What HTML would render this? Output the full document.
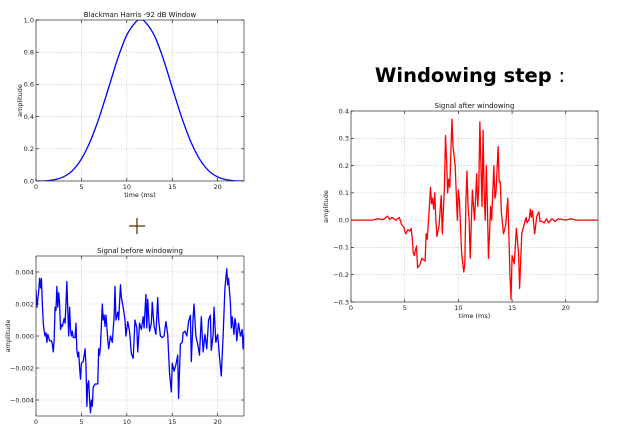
<!DOCTYPE html>
<html><head><meta charset="utf-8"><style>
html,body{margin:0;padding:0;background:#fff;width:621px;height:426px;overflow:hidden}
svg text{font-family:"DejaVu Sans","Liberation Sans",sans-serif}
</style></head><body>
<svg id="root" width="621" height="426" viewBox="0 0 621 426">
<text x="470" y="82" text-anchor="middle" font-size="19.5" font-weight="bold" fill="#000">Windowing step <tspan font-weight="normal">:</tspan></text>
<g><line x1="129" y1="226" x2="145" y2="226" stroke="#5a3a0a" stroke-width="1.3"/><line x1="137" y1="218" x2="137" y2="234" stroke="#5a3a0a" stroke-width="1.3"/></g>
</svg>
<script>
// Window chart data (Blackman-Harris samples)
const winT=[0,1,2,3,4,5,6,7,8,9,10,11,11.5,12,13,14,15,16,17,18,19,20,21,22,23];
const winV=[0,0.001,0.0075,0.025,0.064,0.137,0.25,0.402,0.58,0.761,0.907,0.989,1.0,0.989,0.907,0.761,0.58,0.402,0.25,0.137,0.064,0.025,0.0075,0.001,0];
const winXTicks=[0,5,10,15,20];
const winYTicks=[0.0,0.2,0.4,0.6,0.8,1.0];
const winYLabels=["0.0","0.2","0.4","0.6","0.8","1.0"];
// Signal before windowing
const sigT=[0,0.1,0.3,0.4,0.5,0.6,0.7,0.8,0.9,1.0,1.1,1.2,1.3,1.5,1.7,1.8,1.9,2.0,2.1,2.2,2.3,2.4,2.5,2.6,2.7,2.8,2.9,3.1,3.2,3.3,3.4,3.5,3.6,3.7,3.8,3.9,4.0,4.1,4.3,4.4,4.5,4.6,4.7,4.8,4.9,5.0,5.2,5.4,5.5,5.6,5.7,5.8,5.9,6.0,6.1,6.2,6.3,6.5,6.8,6.9,7.0,7.1,7.3,7.4,7.5,7.6,7.7,7.9,8.0,8.2,8.4,8.6,8.7,8.8,9.0,9.1,9.3,9.4,9.6,9.8,9.9,10.1,10.3,10.5,10.7,10.9,11.1,11.2,11.4,11.6,11.8,11.9,12.1,12.2,12.3,12.5,12.7,12.8,13.0,13.2,13.4,13.5,13.7,13.9,14.1,14.3,14.5,14.7,14.9,15.0,15.2,15.4,15.6,15.7,15.9,16.1,16.2,16.4,16.6,16.8,17.0,17.1,17.3,17.4,17.6,17.8,18.0,18.2,18.4,18.6,18.8,19.0,19.2,19.3,19.5,19.6,19.8,20.0,20.2,20.4,20.6,20.8,20.9,21.0,21.1,21.2,21.4,21.5,21.6,21.8,21.9,22.0,22.1,22.3,22.5,22.7,22.8,22.9];
const sigV=[0.0029,0.0018,0.0028,0.0036,0.0030,0.0036,0.0020,0.0008,0.0003,0.0,0.0002,-0.0004,0.0001,-0.0003,-0.0003,-0.0005,-0.0010,-0.0002,0.0018,0.0016,0.0031,0.0018,0.0027,0.0020,0.0004,0.0007,0.0006,0.0011,0.0008,0.0020,0.0034,0.0016,0.0,0.0018,0.0004,0.0,0.0003,-0.0001,-0.0001,0.0008,-0.0009,-0.0013,-0.0010,-0.0020,-0.0027,-0.0017,-0.0016,-0.0008,-0.0018,-0.0044,-0.0030,-0.0028,-0.0040,-0.0048,-0.0040,-0.0044,-0.0032,-0.0030,-0.0030,-0.0008,-0.0012,-0.0006,0.0020,0.0010,0.0013,0.0006,0.0013,-0.0002,-0.0008,0.0,-0.0004,0.0012,0.0031,0.0010,0.0015,0.0010,0.0032,0.0024,0.0018,0.0010,0.0,0.0009,0.0003,-0.0011,-0.0014,0.0010,0.0005,-0.0010,0.0008,0.0004,0.0012,0.0005,0.0026,0.0005,0.0023,0.0003,0.0008,0.0021,0.0006,0.0001,0.0024,0.0010,0.0,-0.0001,0.0,0.0009,0.0001,-0.0023,-0.0035,-0.0017,-0.0022,-0.0018,-0.0012,-0.0039,-0.0005,-0.0004,0.0002,0.0003,0.0,0.0009,0.0013,-0.0016,0.0012,0.0020,0.0,-0.0005,-0.0012,0.0012,-0.0010,0.0001,-0.0008,0.0010,0.0013,-0.0009,0.0001,0.0018,-0.0004,0.0001,-0.0013,-0.0025,0.0,0.0030,0.0036,0.0042,0.0032,0.0036,0.0021,0.0005,0.0012,0.0001,0.0011,0.0008,-0.0003,0.0008,0.0,0.0004,-0.0008,0.0001];
const sigXTicks=[0,5,10,15,20];
const sigYTicks=[0.004,0.002,0,-0.002,-0.004];
const sigYLabels=["0.004","0.002","0.000","\u22120.002","\u22120.004"];
// Signal after windowing
const wsT=[0,2,2.5,3.0,3.4,3.6,3.8,4.2,4.5,4.7,4.9,5.1,5.3,5.5,5.6,5.7,5.8,5.9,6.0,6.1,6.2,6.4,6.6,6.9,7.0,7.1,7.3,7.4,7.5,7.6,7.7,7.8,7.9,8.0,8.2,8.4,8.5,8.7,8.8,8.9,9.0,9.1,9.2,9.3,9.4,9.5,9.7,9.8,9.9,10.0,10.1,10.3,10.5,10.6,10.7,10.8,10.9,11.0,11.1,11.3,11.5,11.6,11.7,11.8,11.9,12.0,12.1,12.2,12.3,12.4,12.5,12.6,12.7,12.8,12.9,13.0,13.1,13.3,13.4,13.5,13.7,13.8,13.9,14.0,14.2,14.4,14.6,14.7,14.8,14.9,15.0,15.2,15.4,15.6,15.7,15.9,16.1,16.3,16.4,16.6,16.7,16.8,16.9,17.1,17.3,17.5,17.6,17.8,18.0,18.2,18.4,18.7,19.0,19.3,20.0,20.5,21,23];
const wsV=[0,0,0.005,0.002,0.015,0.002,0.01,0,0.01,-0.015,-0.025,-0.05,-0.035,-0.04,-0.03,-0.065,-0.12,-0.13,-0.11,-0.095,-0.175,-0.165,-0.14,-0.15,-0.05,-0.07,0.05,0.12,0.06,0.08,0.04,0.1,0.0,-0.06,-0.02,0.09,-0.05,0.12,0.31,0.22,0.1,0.15,0.12,0.25,0.37,0.27,0.2,0.1,0.0,0.11,0.07,-0.12,-0.19,-0.16,0.07,0.18,0.05,0.0,-0.14,0.11,0.0,0.08,0.17,0.05,0.12,0.36,0.2,0.05,0.33,0.1,0.0,0.2,0.05,-0.14,-0.05,0.05,0.0,0.2,0.08,0.1,0.27,0.14,0.14,0.03,-0.05,-0.02,0.08,-0.05,-0.2,-0.29,-0.13,-0.16,-0.03,-0.12,-0.25,-0.05,-0.02,0.01,-0.01,0.005,0.04,0.01,0.035,-0.05,0.015,0.03,-0.005,-0.005,-0.01,0.005,-0.01,0.005,-0.005,0.005,0,0.005,0,0];
const wsXTicks=[0,5,10,15,20];
const wsYTicks=[0.4,0.3,0.2,0.1,0.0,-0.1,-0.2,-0.3];
const wsYLabels=["0.4","0.3","0.2","0.1","0.0","\u22120.1","\u22120.2","\u22120.3"];

const NS='http://www.w3.org/2000/svg';
const root=document.getElementById('root');
function mk(tag,attrs,parent){const e=document.createElementNS(NS,tag);for(const k in attrs)e.setAttribute(k,attrs[k]);(parent||root).appendChild(e);return e;}

function chart(cfg){
  const g=mk('g',{});
  
  
  const {x0,x1,y0,y1,xmin,xmax,ymin,ymax}=cfg;
  const sx=v=>x0+(v-xmin)/(xmax-xmin)*(x1-x0);
  const sy=v=>y1-(v-ymin)/(ymax-ymin)*(y1-y0);
  cfg.xt.forEach(t=>{
    const X=sx(t);
    const gl=mk('line',{x1:X,x2:X,y1:y0,y2:y1,stroke:'#b0b0b0','stroke-width':0.6,'stroke-dasharray':'1,1.5'},g);
    
    
    mk('line',{x1:X,x2:X,y1:y1,y2:y1-3,stroke:'#000','stroke-width':0.6},g);
    mk('line',{x1:X,x2:X,y1:y0,y2:y0+3,stroke:'#000','stroke-width':0.6},g);
    const tl=mk('text',{x:X,y:y1+8,'font-size':6.5,'text-anchor':'middle',fill:'#222'},g);
    tl.textContent=String(t);
    
    
  });
  cfg.yt.forEach((t,i)=>{
    const Y=sy(t);
    const gl=mk('line',{x1:x0,x2:x1,y1:Y,y2:Y,stroke:'#b0b0b0','stroke-width':0.6,'stroke-dasharray':'1,1.5'},g);
    
    
    mk('line',{x1:x0,x2:x0+3,y1:Y,y2:Y,stroke:'#000','stroke-width':0.6},g);
    mk('line',{x1:x1,x2:x1-3,y1:Y,y2:Y,stroke:'#000','stroke-width':0.6},g);
    const tl=mk('text',{x:x0-2,y:Y+2.3,'font-size':6.5,'text-anchor':'end',fill:'#222'},g);
    tl.textContent=cfg.yl[i];
    
    
  });
  let d='';
  const pts=cfg.t.map((t,i)=>[sx(t),sy(cfg.v[i])]);
  if(cfg.smooth){
    d='M'+pts[0][0]+','+pts[0][1];
    for(let i=0;i<pts.length-1;i++){
      const p0=pts[Math.max(0,i-1)],p1=pts[i],p2=pts[i+1],p3=pts[Math.min(pts.length-1,i+2)];
      const c1=[p1[0]+(p2[0]-p0[0])/6,p1[1]+(p2[1]-p0[1])/6];
      const c2=[p2[0]-(p3[0]-p1[0])/6,p2[1]-(p3[1]-p1[1])/6];
      d+=' C'+c1[0]+','+c1[1]+' '+c2[0]+','+c2[1]+' '+p2[0]+','+p2[1];
    }
  } else {
    d='M'+pts.map(p=>p[0].toFixed(2)+','+p[1].toFixed(2)).join(' L');
  }
  const clipId='clip-'+cfg.name;
  const cp=mk('clipPath',{id:clipId},g);
  mk('rect',{x:x0,y:y0,width:x1-x0,height:y1-y0},cp);
  const path=mk('path',{d:d,fill:'none',stroke:cfg.color,'stroke-width':1.3,'stroke-linejoin':'round','clip-path':'url(#'+clipId+')'},g);
  
  
  const frame=mk('rect',{x:x0,y:y0,width:x1-x0,height:y1-y0,fill:'none',stroke:'#333','stroke-width':0.7},g);
  
  
  const tt=mk('text',{x:(x0+x1)/2,y:y0-3,'font-size':7,'text-anchor':'middle',fill:'#111'},g);
  tt.textContent=cfg.title;
  
  
  const xl=mk('text',{x:(x0+x1)/2,y:y1+16,'font-size':6.5,'text-anchor':'middle',fill:'#111'},g);
  xl.textContent='time (ms)';
  
  
  const yx=cfg.ylx, yy=(y0+y1)/2;
  const yl=mk('text',{x:yx,y:yy,'font-size':6.5,'text-anchor':'middle',fill:'#111',transform:'rotate(-90 '+yx+' '+yy+')'},g);
  yl.textContent='amplitude';
  
  
}

chart({name:'window-chart',series:'window-curve',title:'Blackman Harris -92 dB Window',x0:36,x1:244,y0:20,y1:181,xmin:0,xmax:22.9,ymin:0,ymax:1,xt:winXTicks,yt:winYTicks,yl:winYLabels,t:winT,v:winV,color:'#0000ff',smooth:true,ylx:22});
chart({name:'signal-before-chart',series:'signal-before-line',title:'Signal before windowing',x0:36,x1:244,y0:256,y1:416,xmin:0,xmax:22.9,ymin:-0.005,ymax:0.005,xt:sigXTicks,yt:sigYTicks,yl:sigYLabels,t:sigT,v:sigV,color:'#0000ff',smooth:false,ylx:10});
chart({name:'signal-after-chart',series:'signal-after-line',title:'Signal after windowing',x0:351,x1:598,y0:111,y1:302,xmin:0,xmax:23,ymin:-0.3,ymax:0.4,xt:wsXTicks,yt:wsYTicks,yl:wsYLabels,t:wsT,v:wsV,color:'#ff0000',smooth:false,ylx:328});
</script>
</body></html>
